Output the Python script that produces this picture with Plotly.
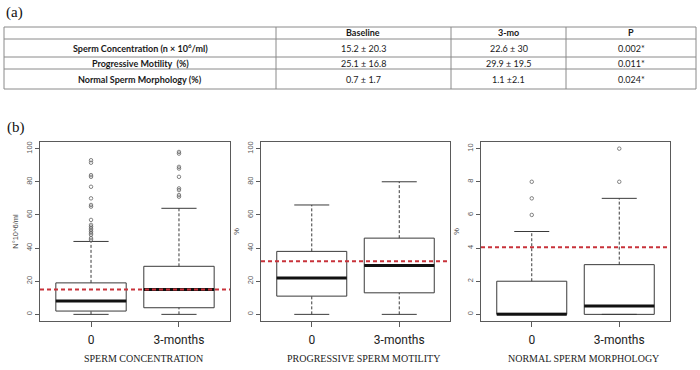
import plotly.graph_objects as go

W, H = 700, 370

# ---------------- table (a) data ----------------
table_header = ["", "Baseline", "3-mo", "P"]
row_labels = ["Sperm Concentration (n × 10<sup>6</sup>/ml)",
              "Progressive Motility  (%)",
              "Normal Sperm Morphology (%)"]
baseline_vals = ["15.2 ± 20.3", "25.1 ± 16.8", "0.7 ± 1.7"]
month3_vals = ["22.6 ± 30", "29.9 ± 19.5", "1.1 ±2.1"]
p_vals = ["0.002*", "0.011*", "0.024*"]

# ---------------- box plot (b) data ----------------
groups = ["0", "3-months"]

conc_q1 = [2, 4]
conc_median = [8, 15]
conc_q3 = [19, 29]
conc_lower = [0, 0]
conc_upper = [44, 64]
conc_outliers_0 = [45, 46, 48, 49, 50, 51, 52, 53, 54, 57, 65, 66, 70, 77, 83, 84, 91.5, 93]
conc_outliers_3 = [71, 72, 75, 76, 83, 88, 89, 97, 98]
conc_ref = 15

mot_q1 = [11, 13]
mot_median = [22, 29.5]
mot_q3 = [38, 46]
mot_lower = [0, 0]
mot_upper = [66, 80]
mot_outliers_0 = []
mot_outliers_3 = []
mot_ref = 32

morph_q1 = [0, 0]
morph_median = [0, 0.5]
morph_q3 = [2, 3]
morph_lower = [0, 0]
morph_upper = [5, 7]
morph_outliers_0 = [6, 7, 8]
morph_outliers_3 = [8, 10]
morph_ref = 4.05

panel_titles = ["SPERM CONCENTRATION", "PROGRESSIVE SPERM MOTILITY", "NORMAL SPERM MORPHOLOGY"]
y_titles = ["N°10^6/ml", "%", "%"]

panels = [
    dict(q1=conc_q1, med=conc_median, q3=conc_q3, lo=conc_lower, hi=conc_upper,
         out=[conc_outliers_0, conc_outliers_3], ref=conc_ref, ylim=(0, 100), step=20),
    dict(q1=mot_q1, med=mot_median, q3=mot_q3, lo=mot_lower, hi=mot_upper,
         out=[mot_outliers_0, mot_outliers_3], ref=mot_ref, ylim=(0, 100), step=20),
    dict(q1=morph_q1, med=morph_median, q3=morph_q3, lo=morph_lower, hi=morph_upper,
         out=[morph_outliers_0, morph_outliers_3], ref=morph_ref, ylim=(0, 10), step=2),
]

# ---------------- layout geometry (pixels) ----------------
def px(x):
    return x / W

def py(y):
    return 1 - y / H

plot_x = [(40, 230), (261, 450), (481, 670)]
plot_y = (142, 321)
title_x_offset = 8

BOX_W = 0.8
CAP_HALF = 0.2
LINE_C = "#3a3a3a"
AXIS_C = "#5a5a5a"

fig = go.Figure()
layout_axes = {}
shapes = []
annotations = []

positions = list(range(1, len(groups) + 1))

for i, p in enumerate(panels):
    n = "" if i == 0 else str(i + 1)
    xa, ya = "x" + n, "y" + n

    # boxes (no whiskers: fences at the quartiles)
    fig.add_trace(go.Box(
        x=positions, q1=p["q1"], median=p["med"], q3=p["q3"],
        lowerfence=p["q1"], upperfence=p["q3"],
        width=BOX_W, whiskerwidth=0, boxpoints=False,
        line=dict(color=LINE_C, width=1), fillcolor="white",
        xaxis=xa, yaxis=ya, showlegend=False, hoverinfo="skip"))

    # dashed whiskers
    wx, wy = [], []
    for c, q1, q3, lo, hi in zip(positions, p["q1"], p["q3"], p["lo"], p["hi"]):
        wx += [c, c, None, c, c, None]
        wy += [q3, hi, None, lo, q1, None]
    fig.add_trace(go.Scatter(x=wx, y=wy, mode="lines",
                             line=dict(color=LINE_C, width=1, dash="3px,2px"),
                             xaxis=xa, yaxis=ya, showlegend=False, hoverinfo="skip"))

    # staples
    sx, sy = [], []
    for c, lo, hi in zip(positions, p["lo"], p["hi"]):
        sx += [c - CAP_HALF, c + CAP_HALF, None, c - CAP_HALF, c + CAP_HALF, None]
        sy += [hi, hi, None, lo, lo, None]
    fig.add_trace(go.Scatter(x=sx, y=sy, mode="lines",
                             line=dict(color=LINE_C, width=1),
                             xaxis=xa, yaxis=ya, showlegend=False, hoverinfo="skip"))

    # thick medians
    mx, my = [], []
    for c, m in zip(positions, p["med"]):
        mx += [c - BOX_W / 2, c + BOX_W / 2, None]
        my += [m, m, None]
    fig.add_trace(go.Scatter(x=mx, y=my, mode="lines",
                             line=dict(color="#111111", width=3),
                             xaxis=xa, yaxis=ya, showlegend=False, hoverinfo="skip"))

    # outliers
    ox, oy = [], []
    for c, outs in zip(positions, p["out"]):
        ox += [c] * len(outs)
        oy += list(outs)
    if ox:
        fig.add_trace(go.Scatter(x=ox, y=oy, mode="markers",
                                 marker=dict(symbol="circle-open", size=3.5,
                                             color="#666666", line=dict(width=0.8)),
                                 xaxis=xa, yaxis=ya, showlegend=False, hoverinfo="skip"))

    # reference line
    shapes.append(dict(type="line", xref=xa + " domain", x0=0, x1=1,
                       yref=ya, y0=p["ref"], y1=p["ref"],
                       line=dict(color="#c8323a", width=2, dash="4px,3px"),
                       layer="above"))

    lo_, hi_ = p["ylim"]
    pad = 0.04 * (hi_ - lo_)
    xpad = 0.04 * (len(groups))
    layout_axes["xaxis" + n] = dict(
        domain=[px(plot_x[i][0]), px(plot_x[i][1])], anchor=ya,
        range=[0.5 - xpad, len(groups) + 0.5 + xpad],
        tickmode="array", tickvals=positions, ticktext=groups,
        ticks="outside", ticklen=5, tickcolor=AXIS_C, ticklabelstandoff=3,
        tickfont=dict(family="Roboto, Liberation Sans, sans-serif",
                      size=12, color="#222222"),
        showline=True, mirror=True, linecolor=AXIS_C, linewidth=1,
        showgrid=False, zeroline=False)
    layout_axes["yaxis" + n] = dict(
        domain=[py(plot_y[1]), py(plot_y[0])], anchor=xa,
        range=[lo_ - pad, hi_ + pad],
        tickmode="array", tickvals=list(range(lo_, hi_ + 1, p["step"])),
        tickangle=-90, ticks="outside", ticklen=4, tickcolor=AXIS_C,
        tickfont=dict(family="Liberation Sans, Arial, sans-serif", size=7.5, color="#555555"),
        title=dict(text=y_titles[i], standoff=5,
                   font=dict(family="Liberation Sans, Arial, sans-serif", size=7.5, color="#444444")),
        showline=True, mirror=True, linecolor=AXIS_C, linewidth=1,
        showgrid=False, zeroline=False)

    annotations.append(dict(
        text=panel_titles[i], xref="paper", yref="paper",
        x=px((plot_x[i][0] + plot_x[i][1]) / 2 + title_x_offset), y=py(358),
        xanchor="center", yanchor="middle", showarrow=False,
        font=dict(family="Liberation Serif, Times New Roman, serif",
                  size=10, color="#222222")))

# ---------------- table (a) ----------------
col_edges = [4, 276, 451, 566, 696]
row_edges = [27, 39, 57, 69, 89]
TBL_C = "#8a8a8a"
tfont = "Lato, Open Sans, sans-serif"

for x in col_edges:
    shapes.append(dict(type="line", xref="paper", yref="paper",
                       x0=px(x), x1=px(x), y0=py(row_edges[0]), y1=py(row_edges[-1]),
                       line=dict(color=TBL_C, width=1)))
for y in row_edges:
    shapes.append(dict(type="line", xref="paper", yref="paper",
                       x0=px(col_edges[0]), x1=px(col_edges[-1]), y0=py(y), y1=py(y),
                       line=dict(color=TBL_C, width=1)))

table_rows = [table_header] + [[r, b, m, pv] for r, b, m, pv in
                               zip(row_labels, baseline_vals, month3_vals, p_vals)]
for ri, row in enumerate(table_rows):
    yc = (row_edges[ri] + row_edges[ri + 1]) / 2
    for ci, txt in enumerate(row):
        if not txt:
            continue
        bold = ri == 0 or ci == 0
        xc = (col_edges[ci] + col_edges[ci + 1]) / 2
        annotations.append(dict(
            text=("<b>%s</b>" % txt) if bold else txt,
            xref="paper", yref="paper", x=px(xc), y=py(yc),
            xanchor="center", yanchor="middle", showarrow=False,
            font=dict(family=tfont, size=9, color="#1a1a1a")))

for lbl, (lx, ly) in [("(a)", (4, 12)), ("(b)", (5, 127))]:
    annotations.append(dict(text=lbl, xref="paper", yref="paper",
                            x=px(lx), y=py(ly), xanchor="left", yanchor="middle",
                            showarrow=False,
                            font=dict(family="Liberation Serif, Times New Roman, serif",
                                      size=15, color="#111111")))

fig.update_layout(
    width=W, height=H, margin=dict(l=0, r=0, t=0, b=0),
    paper_bgcolor="white", plot_bgcolor="white",
    showlegend=False, shapes=shapes, annotations=annotations,
    **layout_axes)

fig.write_html("out.html", config={"displayModeBar": False},
               post_script="document.body.style.margin='0px';document.body.style.overflow='hidden';")
